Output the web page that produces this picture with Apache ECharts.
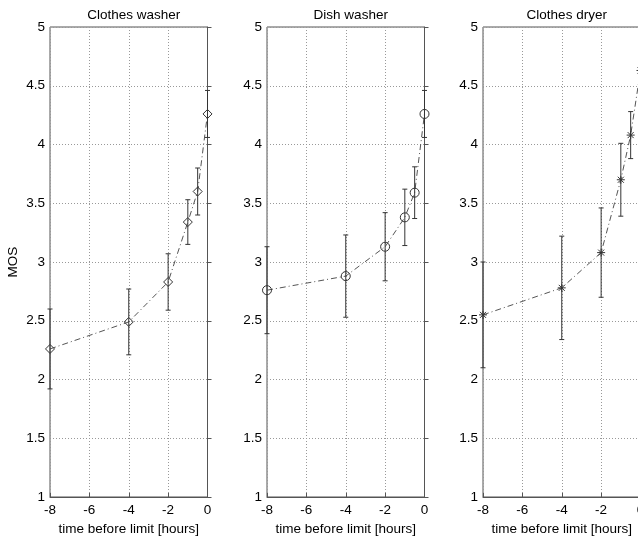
<!DOCTYPE html>
<html><head><meta charset="utf-8">
<script src="https://cdn.jsdelivr.net/npm/echarts@6/dist/echarts.min.js"></script>
<style>html,body{margin:0;padding:0;background:#fff}#c{width:638px;height:539px}</style>
</head><body><div id="c"></div>
<script>
const titles = ["Clothes washer", "Dish washer", "Clothes dryer"];
const hours = [-8, -4, -2, -1, -0.5, 0];
const washerMean = [2.26, 2.49, 2.83, 3.34, 3.60, 4.26];
const washerErr  = [0.34, 0.28, 0.24, 0.19, 0.20, 0.20];
const dishMean   = [2.76, 2.88, 3.13, 3.38, 3.59, 4.26];
const dishErr    = [0.37, 0.35, 0.29, 0.24, 0.22, 0.20];
const dryerMean  = [2.55, 2.78, 3.08, 3.70, 4.08, 4.63];
const dryerErr   = [0.45, 0.44, 0.38, 0.31, 0.20, 0.20];
const xTicks = [-8, -6, -4, -2, 0];
const yTicks = [1, 1.5, 2, 2.5, 3, 3.5, 4, 4.5, 5];
const markers = ["diamond", "circle", "asterisk"];

const means = [washerMean, dishMean, dryerMean];
const errs = [washerErr, dishErr, dryerErr];
const FONT = "Liberation Sans, Arial, sans-serif";
const FS = 13.5;
const lefts = [50, 267, 483];
const W = 157.5, TOP = 27, H = 470;

const chart = echarts.init(document.getElementById('c'), null, {renderer: 'canvas'});
const grids = [], xAxes = [], yAxes = [], series = [], titleArr = [];
for (let i = 0; i < 3; i++) {
  grids.push({left: lefts[i], top: TOP, width: W, height: H, show: true, borderColor: '#555', borderWidth: 1,
    backgroundColor: 'transparent', containLabel: false, outerBoundsMode: 'none'});
  titleArr.push({text: titles[i], left: lefts[i] + W / 2, top: 3, textAlign: 'center',
    textStyle: {fontFamily: FONT, fontSize: FS, fontWeight: 'normal', color: '#000'}});
  xAxes.push({type: 'value', gridIndex: i, min: xTicks[0], max: xTicks[xTicks.length - 1], interval: 2,
    name: 'time before limit [hours]', nameLocation: 'middle', nameGap: 23,
    nameTextStyle: {fontFamily: FONT, fontSize: FS, color: '#000'},
    axisLine: {show: true, onZero: false, lineStyle: {color: '#555'}},
    axisTick: {show: true, inside: true, length: 4, lineStyle: {color: '#555'}},
    axisLabel: {fontFamily: FONT, fontSize: FS, color: '#000', margin: 6, showMinLabel: true, showMaxLabel: true},
    splitLine: {show: true, lineStyle: {color: '#999', type: [1, 2], width: 1}}});
  yAxes.push({type: 'value', gridIndex: i, min: yTicks[0], max: yTicks[yTicks.length - 1], interval: 0.5,
    name: i === 0 ? 'MOS' : '', nameLocation: 'middle', nameGap: 30, nameRotate: 90,
    nameTextStyle: {fontFamily: FONT, fontSize: FS, color: '#000'},
    axisLine: {show: true, lineStyle: {color: '#555'}},
    axisTick: {show: true, inside: true, length: 4, lineStyle: {color: '#555'}},
    axisLabel: {fontFamily: FONT, fontSize: FS, color: '#000', margin: 5},
    splitLine: {show: true, lineStyle: {color: '#999', type: [1, 2], width: 1}}});
  series.push({type: 'line', xAxisIndex: i, yAxisIndex: i, data: hours.map((h, k) => [h, means[i][k]]),
    symbol: 'none', silent: true, z: 3, animation: false,
    lineStyle: {color: '#555', width: 1, type: [6, 3, 1, 3]}});
  const mk = markers[i];
  series.push({type: 'custom', xAxisIndex: i, yAxisIndex: i, z: 4, animation: false, silent: true,
    data: hours.map((h, k) => [h, means[i][k], errs[i][k]]),
    renderItem: function (params, api) {
      const x = api.value(0), m = api.value(1), e = api.value(2);
      const c = api.coord([x, m]);
      const t = api.coord([x, m + e]);
      const b = api.coord([x, m - e]);
      const st = {stroke: '#333', lineWidth: 1, fill: null};
      const ch = [
        {type: 'line', shape: {x1: c[0], y1: t[1], x2: c[0], y2: b[1]}, style: st},
        {type: 'line', shape: {x1: c[0] - 2.5, y1: t[1], x2: c[0] + 2.5, y2: t[1]}, style: st},
        {type: 'line', shape: {x1: c[0] - 2.5, y1: b[1], x2: c[0] + 2.5, y2: b[1]}, style: st}
      ];
      if (mk === 'diamond') {
        const r = 4.5;
        ch.push({type: 'polygon', shape: {points: [[c[0], c[1] - r], [c[0] + r, c[1]], [c[0], c[1] + r], [c[0] - r, c[1]]]}, style: {stroke: '#333', lineWidth: 1, fill: 'none'}});
      } else if (mk === 'circle') {
        ch.push({type: 'circle', shape: {cx: c[0], cy: c[1], r: 4.5}, style: {stroke: '#333', lineWidth: 1, fill: 'none'}});
      } else {
        const r = 4, d = 3;
        ch.push({type: 'line', shape: {x1: c[0], y1: c[1] - r, x2: c[0], y2: c[1] + r}, style: st});
        ch.push({type: 'line', shape: {x1: c[0] - r, y1: c[1], x2: c[0] + r, y2: c[1]}, style: st});
        ch.push({type: 'line', shape: {x1: c[0] - d, y1: c[1] - d, x2: c[0] + d, y2: c[1] + d}, style: st});
        ch.push({type: 'line', shape: {x1: c[0] - d, y1: c[1] + d, x2: c[0] + d, y2: c[1] - d}, style: st});
      }
      return {type: 'group', children: ch};
    }});
}
chart.setOption({animation: false, backgroundColor: '#fff', title: titleArr, grid: grids, xAxis: xAxes, yAxis: yAxes, series: series});
</script></body></html>
